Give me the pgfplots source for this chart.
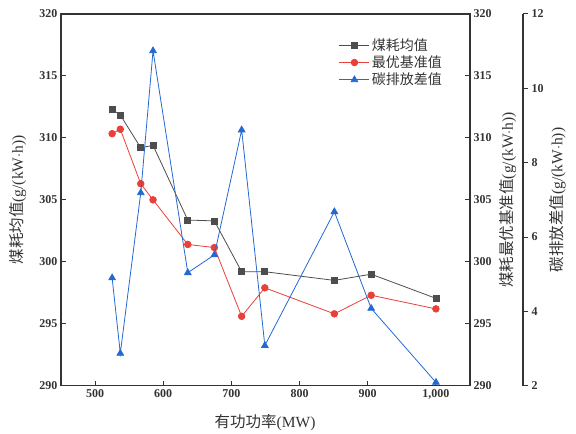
\documentclass[border=0pt]{standalone}
\usepackage{fontspec}
\setmainfont{Liberation Serif}
\newfontfamily\cjk{Noto Sans CJK SC}
\usepackage{pgfplots}
\pgfplotsset{compat=1.18}
\definecolor{cgray}{HTML}{4D4D4D}
\definecolor{cred}{HTML}{E8403A}
\definecolor{cblue}{HTML}{2469D0}
\definecolor{caxis}{HTML}{333333}
\pgfplotsset{
  base/.style={
    scale only axis, height=371.7pt,
    axis line style={caxis, line width=1.1pt},
    tick style={caxis, line width=1pt},
    major tick length=5pt,
    ticklabel style={font=\fontsize{12}{14}\selectfont\bfseries, text=caxis},
    /pgf/number format/assume math mode=true,
    label style={font=\fontsize{15.5}{17}\selectfont, text=caxis},
  }
}
\begin{document}
\begin{tikzpicture}
\begin{axis}[base, name=main,
  width=409pt, xmin=450, xmax=1050, ymin=290, ymax=320,
  xtick={500,600,...,1000}, ytick={290,295,...,320},
  xtick pos=lower, ytick pos=lower, tick align=inside,
  xlabel={{\cjk 有功功率}(MW)},
  ylabel={{\cjk 煤耗均值}(g/(kW$\cdot$h))},
  xlabel style={at={(rel axis cs:0.499,-0.098)}, anchor=center},
  ylabel style={at={(rel axis cs:-0.105,0.5)}, anchor=center, rotate=0},
  legend style={at={(rel axis cs:0.672,0.945)}, anchor=north west, draw=none, fill=none,
    font=\fontsize{14}{16}\selectfont, text=caxis, row sep=0pt,
    legend cell align=left},
  legend image code/.code={\draw[mark repeat=2,mark phase=2,#1] plot coordinates {(0pt,0pt) (15pt,0pt) (30pt,0pt)};},
]
\addplot[cgray, line width=0.8pt, mark=square*, mark size=3pt, mark options={fill=cgray}] coordinates {
(525,312.3) (537,311.85) (567,309.2) (585,309.4) (636,303.37) (675,303.3) (715,299.2) (749,299.2) (851,298.5) (905,299.0) (1000,297.05)};
\addlegendentry{{\cjk 煤耗均值}}
\addplot[cred, line width=0.8pt, mark=*, mark size=3.3pt, mark options={fill=cred}] coordinates {
(525,310.34) (537,310.7) (567,306.3) (585,305.0) (636,301.4) (675,301.15) (715,295.6) (749,297.9) (851,295.8) (905,297.3) (1000,296.2)};
\addlegendentry{{\cjk 最优基准值}}
\addlegendimage{cblue, line width=0.8pt, mark=triangle*, mark size=3.8pt, mark options={fill=cblue}}
\addlegendentry{{\cjk 碳排放差值}}
\end{axis}
\begin{axis}[base,
  width=409pt, xmin=450, xmax=1050, ymin=290, ymax=320,
  axis x line=none, axis y line*=right, tick align=inside,
  ytick={290,295,...,320},
  ylabel={{\cjk 煤耗最优基准值}(g/(kW$\cdot$h))},
  ylabel style={at={(rel axis cs:1.093,0.5)}, anchor=center, rotate=0},
]
\addplot[draw=none] coordinates {(500,300)};
\end{axis}
\begin{axis}[base,
  width=462pt, xmin=450, xmax=1127.7, ymin=2, ymax=12,
  axis x line=none, axis y line*=right, tick align=outside,
  ytick={2,4,...,12},
  ylabel={{\cjk 碳排放差值}(g/(kW$\cdot$h))},
  ylabel style={at={(rel axis cs:1.0747,0.5)}, anchor=center, rotate=0},
]
\addplot[cblue, line width=0.8pt, mark=triangle*, mark size=3.8pt, mark options={fill=cblue}] coordinates {
(525,4.9) (537,2.87) (567,7.19) (585,11.01) (636,5.04) (675,5.52) (715,8.88) (749,3.08) (851,6.68) (905,4.08) (1000,2.09)};
\end{axis}
\pgfresetboundingbox
\useasboundingbox ([xshift=-61pt,yshift=-48.3pt]main.south west) rectangle ([xshift=515pt,yshift=385.7pt]main.south west);
\end{tikzpicture}
\end{document}
